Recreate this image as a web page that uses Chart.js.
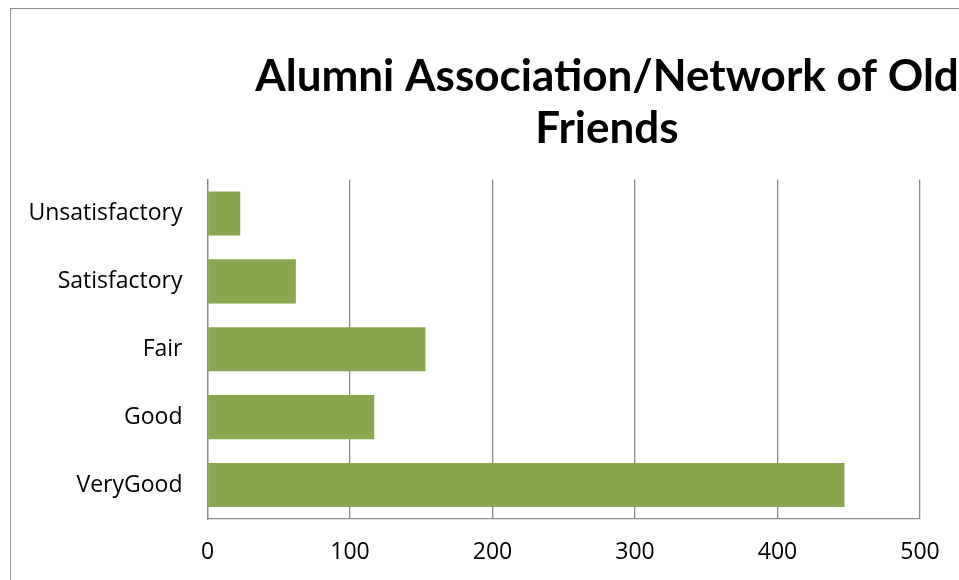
<!DOCTYPE html>
<html lang="en">
<head>
    <meta charset="UTF-8">
    <title>Alumni Association/Network of Old Friends</title>
    <script src="https://cdn.jsdelivr.net/npm/chart.js@4.4.0/dist/chart.umd.min.js"></script>
    <style>
        html, body { margin: 0; padding: 0; background: #fff; overflow: hidden; }
        #wrap { position: absolute; left: 0; top: 0; width: 1214px; height: 580px; }
        #frame { position: absolute; left: 10px; top: 8px; width: 1400px; height: 800px;
                 border-left: 1.5px solid #8c8c8c; border-top: 1.5px solid #8c8c8c; }
    </style>
</head>
<body>
    <div id="wrap"><canvas id="chart" width="1214" height="580"></canvas></div>
    <div id="frame"></div>
    <script>
        // data
        const categories = ['Unsatisfactory', 'Satisfactory', 'Fair', 'Good', 'VeryGood'];
        const counts = [23, 62, 153, 117, 447];
        const xTicks = [0, 100, 200, 300, 400, 500];

        const titleFont = 'Lato, "Open Sans", sans-serif';
        const labelFont = '"Open Sans", Lato, sans-serif';

        new Chart(document.getElementById('chart'), {
            type: 'bar',
            data: {
                labels: categories,
                datasets: [{
                    data: counts,
                    backgroundColor: '#8aa64f',
                    categoryPercentage: 1,
                    barPercentage: 0.65
                }]
            },
            options: {
                indexAxis: 'y',
                responsive: false,
                animation: false,
                layout: { padding: { left: 0, right: 0, top: 0, bottom: 13 } },
                plugins: {
                    legend: { display: false },
                    tooltip: { enabled: false },
                    title: {
                        display: true,
                        text: ['Alumni Association/Network of Old', 'Friends'],
                        color: '#000',
                        font: { family: titleFont, size: 44, weight: 'bold', lineHeight: 1.2 },
                        padding: { top: 50, bottom: 24 }
                    }
                },
                scales: {
                    x: {
                        min: xTicks[0],
                        max: xTicks[xTicks.length - 1],
                        afterBuildTicks: s => { s.ticks = xTicks.map(v => ({ value: v })); },
                        afterFit: s => { s.height = 48; },
                        grid: { color: '#8a8a8a', lineWidth: 1.3, drawTicks: false },
                        border: { color: '#8a8a8a', width: 1.3 },
                        ticks: { color: '#000', padding: 20, maxRotation: 0, font: { family: labelFont, size: 23 } }
                    },
                    y: {
                        afterFit: s => { s.width = 207.5; },
                        grid: { display: false, drawTicks: false },
                        border: { color: '#8a8a8a', width: 1.3 },
                        ticks: { color: '#000', padding: 25, font: { family: labelFont, size: 23 } }
                    },
                    // empty space to the right of the plot, as in the original chart
                    yRight: {
                        type: 'category',
                        position: 'right',
                        afterFit: s => { s.width = 294; },
                        grid: { display: false, drawTicks: false },
                        border: { display: false },
                        ticks: { display: false }
                    }
                }
            }
        });
    </script>
</body>
</html>
